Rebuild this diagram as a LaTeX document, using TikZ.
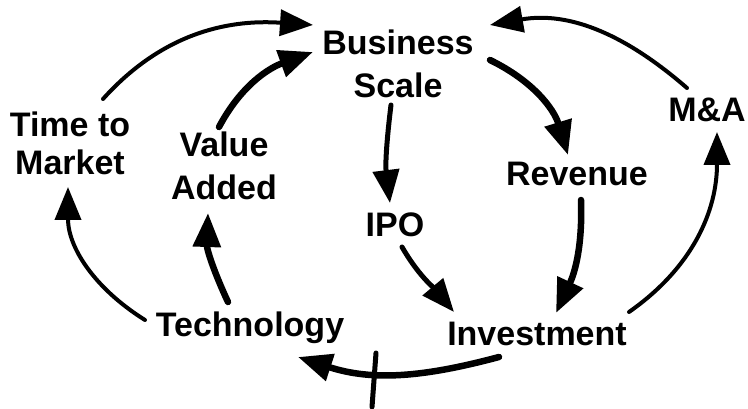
\documentclass[tikz,border=0pt]{standalone}
\usepackage{fontspec}
\newfontfamily\labfont{Liberation Sans}
\usetikzlibrary{arrows.meta}
\begin{document}
\begin{tikzpicture}[x=1pt,y=1pt,
  lab/.style={font=\labfont\bfseries\fontsize{34}{43}\selectfont, inner sep=0pt, anchor=base, align=center},
  conthin/.style={line width=4pt, line cap=round, -{Triangle[length=33pt,width=26pt]}},
  conmid/.style={line width=5pt, line cap=round, -{Triangle[length=33pt,width=26pt]}},
  conthick/.style={line width=6.5pt, line cap=round, -{Triangle[length=34pt,width=27pt]}}
]
\useasboundingbox (0,0) rectangle (748,-409);
% base anchor = baseline of the last line
\node[lab] (bs)   at (398,-98)  {Business\\Scale};
\node[lab] (tm)   at (70,-175)  {Time to\\[-5pt]Market};
\node[lab] (va)   at (224,-200) {Value\\Added};
\node[lab] (rev)  at (577,-186) {Revenue};
\node[lab] (ma)   at (707,-122) {M\&A};
\node[lab] (ipo)  at (395,-237) {IPO};
\node[lab] (tech) at (250,-336) {Technology};
\node[lab] (inv)  at (537,-345) {Investment};

% Time to Market -> Business Scale
\draw[conthin] ([shift={(33,76)}]tm.base) to[out=48,in=176] ([shift={(-85,73)}]bs.base);
% Value Added -> Business Scale
\draw[conthick] ([shift={(-5,73)}]va.base) to[out=62,in=200] ([shift={(-85,46)}]bs.base);
% M&A -> Business Scale
\draw[conthin] ([shift={(-20,34)}]ma.base) to[out=139,in=10] ([shift={(92,73)}]bs.base);
% Business Scale -> Revenue
\draw[conthick] ([shift={(92,38)}]bs.base) to[out=-26,in=107] ([shift={(-9,31)}]rev.base);
% Business Scale -> IPO
\draw[conmid] ([shift={(-7,-7)}]bs.base) to[out=-97,in=97] ([shift={(-5,34)}]ipo.base);
% IPO -> Investment
\draw[conmid] ([shift={(7,-10)}]ipo.base) to[out=-60,in=130] ([shift={(-83,33)}]inv.base);
% Revenue -> Investment
\draw[conthick] ([shift={(4,-14)}]rev.base) to[out=-88,in=65] ([shift={(19,32)}]inv.base);
% Investment -> M&A
\draw[conthin] ([shift={(92,33)}]inv.base) to[out=35,in=-90] ([shift={(10,-10)}]ma.base);
% Investment -> Technology
\draw[conthick] ([shift={(-38,-12)}]inv.base) to[out=195,in=-18] ([shift={(48,-21)}]tech.base);
\draw[line width=5pt, line cap=round] ([shift={(-161,-8)}]inv.base) -- ++(-4,-54);
% Technology -> Time to Market
\draw[conthin] ([shift={(-105,16)}]tech.base) to[out=148,in=-90] ([shift={(-2,-12)}]tm.base);
% Technology -> Value Added
\draw[conthick] ([shift={(-22,34)}]tech.base) to[out=115,in=-92] ([shift={(-16,-13)}]va.base);
\end{tikzpicture}
\end{document}
